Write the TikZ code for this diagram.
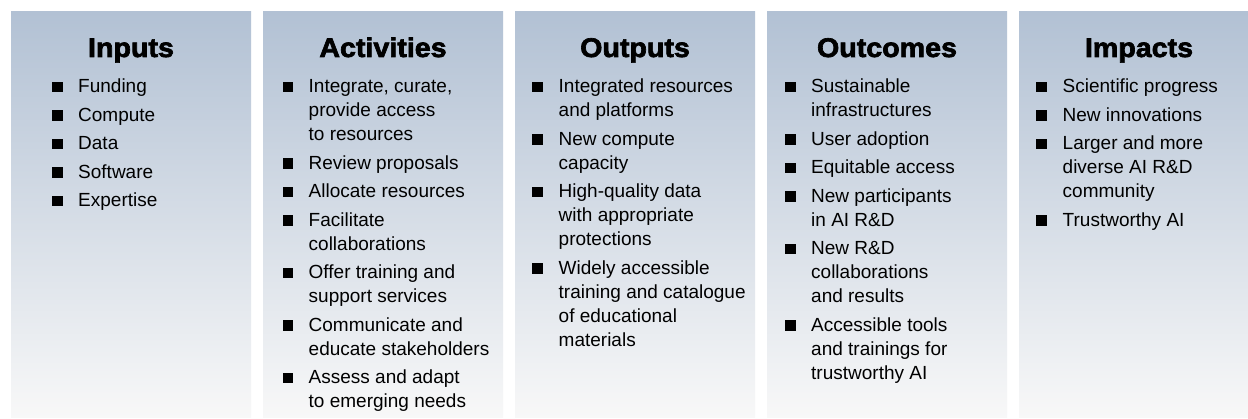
\documentclass[tikz,border=0pt]{standalone}
\usepackage{fontspec}
\setmainfont{Liberation Sans}
\newfontfamily\titlefont[FakeBold=2.5,FakeStretch=1.06]{Liberation Sans Bold}
\definecolor{bgtop}{RGB}{178,193,212}
\definecolor{bgbot}{RGB}{248,248,248}
\newcommand\bitem[5]{%
  \node[bul] (#1-b) at (#2,#4) {};
  \node[itm] (#1) at (#3,#4) {\parbox[t]{230pt}{\fontsize{19}{24}\selectfont\raggedright #5}};}
\begin{document}
\begin{tikzpicture}[x=1pt,y=-1pt,
  colbg/.style={top color=bgtop,bottom color=bgbot},
  ttl/.style={anchor=base,inner sep=0pt,font=\titlefont\fontsize{27}{30}\selectfont},
  itm/.style={anchor=base west,inner sep=0pt,text=black},
  bul/.style={anchor=south west,fill=black,minimum size=10.5pt,inner sep=0pt,yshift=0.5pt}]
\useasboundingbox (0,0) rectangle (1248,419);
\clip (0,0) rectangle (1248,419);
\fill[white] (0,0) rectangle (1248,419);
% column backgrounds
\shade[colbg] (11,12) rectangle (251,418);
\shade[colbg] (263,12) rectangle (503,418);
\shade[colbg] (515,12) rectangle (755,418);
\shade[colbg] (767,12) rectangle (1007,418);
\shade[colbg] (1019,12) rectangle (1259,418);
% titles
\node[ttl] (t1) at (131,57) {Inputs};
\node[ttl] (t2) at (383,57) {Activities};
\node[ttl] (t3) at (635,57) {Outputs};
\node[ttl] (t4) at (887,57) {Outcomes};
\node[ttl] (t5) at (1139,57) {Impacts};
% Inputs
\bitem{i1}{52}{78}{93}{Funding}
\bitem{i2}{52}{78}{121.5}{Compute}
\bitem{i3}{52}{78}{150}{Data}
\bitem{i4}{52}{78}{178.5}{Software}
\bitem{i5}{52}{78}{207}{Expertise}
% Activities
\bitem{a1}{282.5}{308.5}{93}{Integrate, curate,\\provide access\\to resources}
\bitem{a2}{282.5}{308.5}{169.5}{Review proposals}
\bitem{a3}{282.5}{308.5}{198}{Allocate resources}
\bitem{a4}{282.5}{308.5}{226.5}{Facilitate\\collaborations}
\bitem{a5}{282.5}{308.5}{279}{Offer training and\\support services}
\bitem{a6}{282.5}{308.5}{331.5}{Communicate and\\educate stakeholders}
\bitem{a7}{282.5}{308.5}{384}{Assess and adapt\\to emerging needs}
% Outputs
\bitem{o1}{532}{558.5}{93}{Integrated resources\\and platforms}
\bitem{o2}{532}{558.5}{145.5}{New compute\\capacity}
\bitem{o3}{532}{558.5}{198}{High-quality data\\with appropriate\\protections}
\bitem{o4}{532}{558.5}{274.5}{Widely accessible\\training and catalogue\\of educational\\materials}
% Outcomes
\bitem{c1}{785}{811}{93}{Sustainable\\infrastructures}
\bitem{c2}{785}{811}{145.5}{User adoption}
\bitem{c3}{785}{811}{174}{Equitable access}
\bitem{c4}{785}{811}{202.5}{New participants\\in AI R\&D}
\bitem{c5}{785}{811}{255}{New R\&D\\collaborations\\and results}
\bitem{c6}{785}{811}{331.5}{Accessible tools\\and trainings for\\trustworthy AI}
% Impacts
\bitem{m1}{1036}{1062.5}{93}{Scientific progress}
\bitem{m2}{1036}{1062.5}{121.5}{New innovations}
\bitem{m3}{1036}{1062.5}{150}{Larger and more\\diverse AI R\&D\\community}
\bitem{m4}{1036}{1062.5}{226.5}{Trustworthy AI}
\end{tikzpicture}
\end{document}
